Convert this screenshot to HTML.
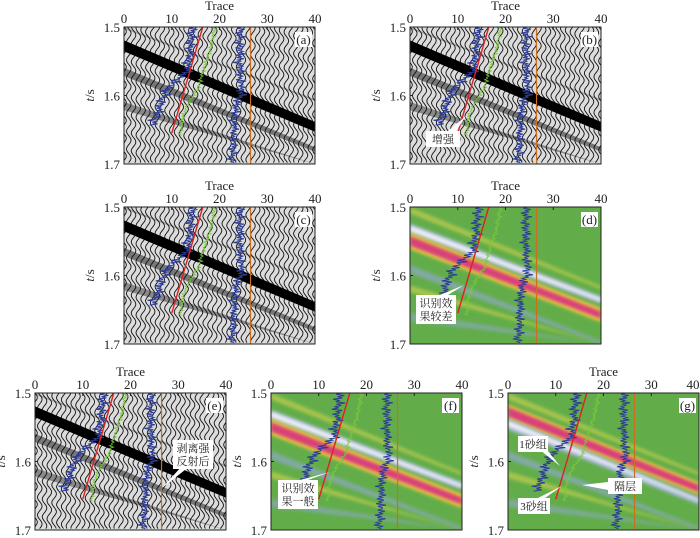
<!DOCTYPE html>
<html><head><meta charset="utf-8"><style>
html,body{margin:0;padding:0;background:#fff;width:700px;height:538px;overflow:hidden;}
svg{display:block;}
svg text{font-family:"Liberation Serif","Noto Serif CJK SC",serif;}
</style></head><body>
<svg id="s" width="700" height="538" viewBox="0 0 700 538" xmlns="http://www.w3.org/2000/svg">
<defs><filter id="bl" x="-5%" y="-20%" width="110%" height="140%"><feGaussianBlur stdDeviation="1.6"/></filter></defs>
</svg>
<script>
// trace ticks and time ticks
const traceTicks=[0,10,20,30,40];
const timeTicks=[1.5,1.6,1.7];
// overlay curves [trace, time]
const redLine=[[16.5,1.5],[10,1.655]];
const greenLine=[[19,1.5],[18.2,1.53],[17,1.555],[15.5,1.59],[14,1.605],[12.5,1.625],[12,1.645],[11.8,1.66]];
const blueLog1=[[14.3,1.5],[13.8,1.54],[13.2,1.565],[11,1.578],[9,1.59],[7.5,1.615],[6,1.645]];
const blueLog2=[[24.3,1.5],[24.2,1.55],[24.6,1.597],[23.2,1.62],[23,1.66],[22.6,1.7]];
const jitter=[0.6,-0.8,1.4,-0.4,0.9,-1.5,0.3,-0.7,1.8,-0.5,0.8,-1.0,0.2,-1.6,1.2,-0.3,0.7,-1.3,0.5,-0.6,1.0,-0.2,1.7,-1.1,0.4,-0.8,1.3,-0.6,0.3,-1.9,0.8,-0.4,1.1,-0.9,0.6,-0.3,1.5,-0.7,0.4,-1.2,0.9,-0.5,0.2,-1.4,1.6,-0.8,0.5];
const orangeTrace=26.5;
const panels=[
 {id:'a',x:124,y:27,kind:'w',title:true},
 {id:'b',x:410,y:27,kind:'w',title:true},
 {id:'c',x:124,y:207,kind:'w',title:true},
 {id:'d',x:410,y:207,kind:'c1',title:true},
 {id:'e',x:35,y:393,kind:'w',title:true},
 {id:'f',x:271,y:393,kind:'c1',title:false},
 {id:'g',x:508,y:393,kind:'c2',title:true}
];
const W=191,H=137,NS='http://www.w3.org/2000/svg';
const svg=document.getElementById('s');
function mk(tag,at,parent){const e=document.createElementNS(NS,tag);for(const k in at)e.setAttribute(k,at[k]);(parent||svg).appendChild(e);return e;}
panels.forEach(p=>{
 const xs=t=>p.x+t/40*W, ys=t=>p.y+(t-1.5)/0.2*H;
 const cy=v=>Math.max(p.y,Math.min(p.y+H,v)).toFixed(1);
 const g=mk('g',{});
 
 
 const cp=mk('clipPath',{id:'cp'+p.id},g);mk('rect',{x:p.x,y:p.y,width:W,height:H},cp);
 const c=mk('g',{'clip-path':'url(#cp'+p.id+')'},g);
 const band=(t0,t1,dt0,dt1,fill,op,blur)=>{const e=mk('polygon',{points:`${xs(0)},${cy(ys(t0-0.0055))} ${xs(40)},${cy(ys(t1+0.0055))} ${xs(40)},${cy(ys(t1+dt1))} ${xs(0)},${cy(ys(t0+dt0-0.0055))}`,fill:fill,opacity:op},c);if(blur)e.setAttribute('filter','url(#bl)');return e;};
 if(p.kind==='w'){
  mk('rect',{x:p.x,y:p.y,width:W,height:H,fill:'#dcdcdc'},c);
  band(1.565,1.67,0.012,0.012,'#222',0.55);
  band(1.615,1.72,0.012,0.012,'#222',0.45);
  band(1.50,1.60,0.008,0.008,'#333',0.35);
  for(let i=0;i<=40;i++){let d='';for(let t=1.5;t<=1.7;t+=0.002){const x=xs(i)+2.3*Math.sin(2*Math.PI*(t-1.5-0.0027*i)/0.026);d+=(d?'L':'M')+x.toFixed(1)+','+ys(t).toFixed(1);}
   mk('path',{d:d,fill:'none',stroke:'#111','stroke-width':0.9},c);}
  band(1.525,1.633,0.016,0.02,'#000',1);
 } else {
  mk('rect',{x:p.x,y:p.y,width:W,height:H,fill:'#62ad4a'},c);
  band(1.505,1.61,0.01,0.01,'#d8d450',0.6,1);
  band(1.59,1.69,0.012,0.012,'#8fa8c8',0.7,1);
  band(1.62,1.72,0.01,0.01,'#d8d450',0.6,1);
  band(1.66,1.76,0.012,0.012,'#8fa8c8',0.6,1);
  if(p.kind==='c1'){
   band(1.53,1.625,0.014,0.016,'#a8b8d8',1,1);band(1.533,1.628,0.008,0.01,'#eef0f4',1,1);
   band(1.543,1.642,0.024,0.026,'#e8c840',1,1);band(1.548,1.647,0.014,0.016,'#d8407a',1,1);
  } else {
   band(1.522,1.625,0.022,0.024,'#e8c840',1,1);band(1.526,1.629,0.014,0.016,'#d8407a',1,1);
   band(1.543,1.647,0.016,0.016,'#a8b8d8',1,1);band(1.546,1.65,0.008,0.008,'#eef0f4',1,1);
  }
 }
 // overlays
 mk('line',{x1:xs(orangeTrace),y1:p.y,x2:xs(orangeTrace),y2:p.y+H,stroke:'#c87020','stroke-width':1.2},c);
 const logPath=(pts,amp,col,sw)=>{let d='',k=0;for(let s=0;s<pts.length-1;s++){const [a0,b0]=pts[s],[a1,b1]=pts[s+1];const n=Math.max(2,Math.round(Math.abs(b1-b0)/0.0018));for(let j=0;j<n;j++){const f=j/n;const tr=a0+(a1-a0)*f+amp*jitter[k%jitter.length];k++;d+=(d?'L':'M')+xs(tr).toFixed(1)+','+cy(ys(b0+(b1-b0)*f));}}
  const e=mk('path',{d:d,fill:'none',stroke:col,'stroke-width':sw},c);return e;};
 const gl=logPath(greenLine,0.3,'#7cc83c',0.8);
 const b1=logPath(blueLog1,0.8,'#2c3c98',1);
 const b2=logPath(blueLog2,0.7,'#2c3c98',1);
 mk('line',{x1:xs(redLine[0][0]),y1:ys(redLine[0][1]),x2:xs(redLine[1][0]),y2:ys(redLine[1][1]),stroke:'#e02020','stroke-width':1.4},c);
 mk('rect',{x:p.x,y:p.y,width:W,height:H,fill:'none',stroke:'#222','stroke-width':1},g);
 // axes
 traceTicks.forEach(t=>{mk('line',{x1:xs(t),y1:p.y,x2:xs(t),y2:p.y+3,stroke:'#222'},g);
  const tx=mk('text',{x:Math.min(xs(t),693),y:p.y-4,'font-size':13,'text-anchor':'middle',fill:'#222'},g);tx.textContent=t;});
 timeTicks.forEach(t=>{mk('line',{x1:p.x,y1:ys(t),x2:p.x+3,y2:ys(t),stroke:'#222'},g);
  const tx=mk('text',{x:p.x-4,y:ys(t)+5,'font-size':13,'text-anchor':'end',fill:'#222'},g);tx.textContent=t.toFixed(1);});
 if(p.title){const tt=mk('text',{x:p.x+W/2,y:p.y-17,'font-size':13,'text-anchor':'middle',fill:'#222'},g);tt.textContent='Trace';}
 const yl=mk('text',{transform:`translate(${p.x-30},${p.y+H/2}) rotate(-90)`,'font-size':13,'text-anchor':'middle',fill:'#222'},g);
 yl.innerHTML='<tspan font-style="italic">t</tspan>/s';
 mk('rect',{x:p.x+W-20,y:p.y+5,width:17,height:15,fill:'#fff'},g);
 const lb=mk('text',{x:p.x+W-11.5,y:p.y+17,'font-size':13,'text-anchor':'middle',fill:'#222'},g);lb.textContent='('+p.id+')';
});
// callouts
const callouts=[
 {name:'callout-enhance',lines:['增强'],x:426,y:131,w:34,tip:[[448,131],[456,131],[466,116]]},
 {name:'callout-poor',lines:['识别效','果较差'],x:416,y:295,w:40,tip:[[440,295],[448,295],[464,285]]},
 {name:'callout-stripped',lines:['剥离强','反射后'],x:173,y:440,w:40,tip:[[182,466],[190,466],[162,488]]},
 {name:'callout-fair',lines:['识别效','果一般'],x:278,y:480,w:40,tip:[[300,480],[308,480],[330,472]]},
 {name:'callout-sand1',lines:['1砂组'],x:518,y:436,w:30,tip:[[540,450],[547,450],[560,466]]},
 {name:'callout-sand3',lines:['3砂组'],x:518,y:498,w:32,tip:[[538,498],[545,498],[562,486]]},
 {name:'callout-barrier',lines:['隔层'],x:608,y:478,w:34,tip:[[608,482],[608,490],[582,485]]}
];
callouts.forEach(o=>{const g=mk('g',{});
 
 
 mk('polygon',{points:o.tip.map(p=>p.join(',')).join(' '),fill:'#fff'},g);
 mk('rect',{x:o.x,y:o.y,width:o.w,height:o.lines.length*13+3,fill:'#fff'},g);
 o.lines.forEach((l,i)=>{const t=mk('text',{x:o.x+o.w/2,y:o.y+12+i*13,'font-size':11,'text-anchor':'middle',fill:'#222'},g);t.textContent=l;});
});
</script>
</body></html>
